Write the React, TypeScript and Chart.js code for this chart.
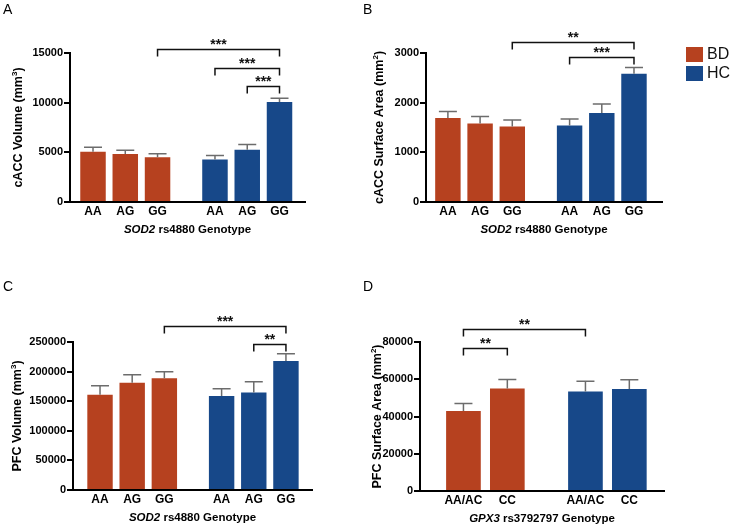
import React, { useEffect, useRef } from "react";
import { Chart, registerables } from "chart.js";

Chart.register(...registerables);

const FONT = '"Liberation Sans", Arial, Helvetica, sans-serif';
const BD_COLOR = "#B6411F";
const HC_COLOR = "#174889";
const ERR_COLOR = "#6c6c6c";
const seriesNames = ["BD", "HC"];

// ---------- Panel A ----------
const genotypesA = ["AA", "AG", "GG"];
const bdMeanA = [5050, 4820, 4510];
const bdSemA = [450, 400, 340];
const hcMeanA = [4280, 5250, 10070];
const hcSemA = [400, 550, 370];
const yTicksA = [0, 5000, 10000, 15000];
const sigFromA = [2, 3, 4];
const sigToA = [5, 5, 5];
const sigLevelA = [15370, 13460, 11680];
const sigStarsA = ["***", "***", "***"];

// ---------- Panel B ----------
const genotypesB = ["AA", "AG", "GG"];
const bdMeanB = [1690, 1582, 1521];
const bdSemB = [133, 141, 129];
const hcMeanB = [1541, 1791, 2581];
const hcSemB = [129, 181, 128];
const yTicksB = [0, 1000, 2000, 3000];
const sigFromB = [2, 3];
const sigToB = [5, 5];
const sigLevelB = [3219, 2918];
const sigStarsB = ["**", "***"];

// ---------- Panel C ----------
const genotypesC = ["AA", "AG", "GG"];
const bdMeanC = [161100, 181300, 188600];
const bdSemC = [15200, 13500, 11200];
const hcMeanC = [158800, 164500, 217700];
const hcSemC = [12400, 18500, 12400];
const yTicksC = [0, 50000, 100000, 150000, 200000, 250000];
const sigFromC = [2, 4];
const sigToC = [5, 5];
const sigLevelC = [277800, 247000];
const sigStarsC = ["***", "**"];

// ---------- Panel D ----------
const genotypesD = ["AA/AC", "CC"];
const bdMeanD = [42900, 55000];
const bdSemD = [4100, 4800];
const hcMeanD = [53400, 54800];
const hcSemD = [5500, 4900];
const yTicksD = [0, 20000, 40000, 60000, 80000];
const sigFromD = [0, 0];
const sigToD = [2, 1];
const sigLevelD = [86900, 77000];
const sigStarsD = ["**", "**"];

type Run = { text: string; font: string; dy?: number };

function drawRuns(ctx: CanvasRenderingContext2D, runs: Run[], cx: number, cy: number) {
  let total = 0;
  const widths = runs.map((r) => {
    ctx.font = r.font;
    const w = ctx.measureText(r.text).width;
    total += w;
    return w;
  });
  let x = cx - total / 2;
  ctx.textAlign = "left";
  ctx.textBaseline = "middle";
  runs.forEach((r, i) => {
    ctx.font = r.font;
    ctx.fillText(r.text, x, cy + (r.dy || 0));
    x += widths[i];
  });
}

type PanelSpec = {
  letter: string;
  left: number;
  top: number;
  width: number;
  height: number;
  padLeft: number;
  padTop: number;
  padRight: number;
  yAxisWidth: number;
  xAxisHeight: number;
  xMin: number;
  xMax: number;
  groups: string[];
  bdMean: number[];
  bdSem: number[];
  hcMean: number[];
  hcSem: number[];
  yTicks: number[];
  sigFrom: number[];
  sigTo: number[];
  sigLevel: number[];
  sigStars: string[];
  yTitle: string;
  ySup: string;
  yTitleX: number;
  xGene: string;
  xRest: string;
  letterY: number;
  legend: boolean;
};

const GROUP_GAP = 0.78;

function Panel({ spec }: { spec: PanelSpec }) {
  const ref = useRef<HTMLCanvasElement | null>(null);
  useEffect(() => {
    const canvas = ref.current;
    if (!canvas) return;
    const n = spec.groups.length;
    const bdX = spec.groups.map((_, i) => i);
    const hcX = spec.groups.map((_, i) => n + GROUP_GAP + i);
    const tickPos = [...bdX, ...hcX];
    const tickLabels = [...spec.groups, ...spec.groups];

    const overlay = {
      id: "overlay" + spec.letter,
      afterDraw(chart: any) {
        const ctx: CanvasRenderingContext2D = chart.ctx;
        const ys = chart.scales.y;
        const area = chart.chartArea;
        const metas = [chart.getDatasetMeta(0), chart.getDatasetMeta(1)];
        const sems = [spec.bdSem, spec.hcSem];
        const means = [spec.bdMean, spec.hcMean];
        ctx.save();
        // error bars
        ctx.strokeStyle = ERR_COLOR;
        ctx.lineWidth = 1.5;
        for (let d = 0; d < 2; d++) {
          metas[d].data.forEach((el: any, i: number) => {
            const yTop = el.y;
            const yErr = ys.getPixelForValue(means[d][i] + sems[d][i]);
            ctx.beginPath();
            ctx.moveTo(el.x, yTop);
            ctx.lineTo(el.x, yErr);
            ctx.moveTo(el.x - 9, yErr);
            ctx.lineTo(el.x + 9, yErr);
            ctx.stroke();
          });
        }
        // significance brackets
        const centerOf = (idx: number) =>
          idx < n ? metas[0].data[idx].x : metas[1].data[idx - n].x;
        ctx.strokeStyle = "#111";
        ctx.fillStyle = "#111";
        ctx.lineWidth = 1.5;
        spec.sigLevel.forEach((lvl, k) => {
          const x1 = centerOf(spec.sigFrom[k]);
          const x2 = centerOf(spec.sigTo[k]);
          const y = Math.round(ys.getPixelForValue(lvl)) + 0.5;
          ctx.beginPath();
          ctx.moveTo(x1, y + 7);
          ctx.lineTo(x1, y);
          ctx.lineTo(x2, y);
          ctx.lineTo(x2, y + 7);
          ctx.stroke();
          ctx.font = `bold 14px ${FONT}`;
          ctx.textAlign = "center";
          ctx.textBaseline = "alphabetic";
          ctx.fillText(spec.sigStars[k], (x1 + x2) / 2, y - 1);
        });
        // axis titles
        ctx.fillStyle = "#000";
        const cx = (area.left + area.right) / 2;
        drawRuns(
          ctx,
          [
            { text: spec.xGene, font: `italic bold 11.5px ${FONT}` },
            { text: spec.xRest, font: `bold 11.5px ${FONT}` },
          ],
          cx,
          area.bottom + 28
        );
        ctx.save();
        ctx.translate(spec.yTitleX, (area.top + area.bottom) / 2);
        ctx.rotate(-Math.PI / 2);
        drawRuns(
          ctx,
          [
            { text: spec.yTitle + " (mm", font: `bold 12.5px ${FONT}` },
            { text: spec.ySup, font: `bold 8px ${FONT}`, dy: -4 },
            { text: ")", font: `bold 12.5px ${FONT}` },
          ],
          0,
          0
        );
        ctx.restore();
        // panel letter
        ctx.font = `14px ${FONT}`;
        ctx.textAlign = "left";
        ctx.textBaseline = "alphabetic";
        ctx.fillText(spec.letter, 3, spec.letterY);
        // legend
        if (spec.legend) {
          const cols = [BD_COLOR, HC_COLOR];
          const ys2 = [47, 66];
          cols.forEach((c, k) => {
            ctx.fillStyle = c;
            ctx.fillRect(326, ys2[k], 17, 15);
            ctx.fillStyle = "#111";
            ctx.font = `16px ${FONT}`;
            ctx.textBaseline = "middle";
            ctx.fillText(seriesNames[k], 347, ys2[k] + 8);
          });
        }
        ctx.restore();
      },
    };

    const chart = new Chart(canvas, {
      type: "bar",
      data: {
        datasets: [
          {
            label: seriesNames[0],
            data: bdX.map((x, i) => ({ x, y: spec.bdMean[i] })),
            backgroundColor: BD_COLOR,
          },
          {
            label: seriesNames[1],
            data: hcX.map((x, i) => ({ x, y: spec.hcMean[i] })),
            backgroundColor: HC_COLOR,
          },
        ] as any,
      },
      options: {
        responsive: false,
        animation: false,
        events: [],
        grouped: false,
        categoryPercentage: 1,
        barPercentage: 0.79,
        layout: {
          padding: { left: spec.padLeft, top: spec.padTop, right: spec.padRight, bottom: 0 },
        },
        plugins: { legend: { display: false }, tooltip: { enabled: false } },
        scales: {
          x: {
            type: "linear",
            min: spec.xMin,
            max: spec.xMax,
            offset: false,
            z: 1,
            grid: { display: false, drawTicks: false, offset: false },
            border: { display: true, color: "#000", width: 2 },
            afterBuildTicks: (axis: any) => {
              axis.ticks = tickPos.map((v) => ({ value: v }));
            },
            afterFit: (axis: any) => {
              axis.height = spec.xAxisHeight;
            },
            ticks: {
              autoSkip: false,
              maxRotation: 0,
              minRotation: 0,
              padding: 2,
              color: "#000",
              font: { family: FONT, size: 12, weight: "bold" },
              callback: (_v: any, i: number) => tickLabels[i],
            },
          },
          y: {
            min: spec.yTicks[0],
            max: spec.yTicks[spec.yTicks.length - 1],
            z: 1,
            afterBuildTicks: (axis: any) => {
              axis.ticks = spec.yTicks.map((v) => ({ value: v }));
            },
            afterFit: (axis: any) => {
              axis.width = spec.yAxisWidth;
            },
            grid: {
              drawOnChartArea: false,
              drawTicks: true,
              tickLength: 6,
              color: "#000",
              lineWidth: 2,
            },
            border: { display: true, color: "#000", width: 2 },
            ticks: {
              padding: 1,
              color: "#000",
              font: { family: FONT, size: 11, weight: "bold" },
              callback: (v: any) => String(v),
            },
          },
        },
      } as any,
      plugins: [overlay],
    });
    return () => chart.destroy();
  }, [spec]);
  return (
    <canvas
      ref={ref}
      width={spec.width}
      height={spec.height}
      style={{ position: "absolute", left: spec.left, top: spec.top, width: spec.width, height: spec.height }}
    />
  );
}

const panels: PanelSpec[] = [
  {
    letter: "A", left: 0, top: 0, width: 360, height: 260,
    padLeft: 0, padTop: 53, padRight: 55, yAxisWidth: 70, xAxisHeight: 58,
    xMin: -0.713, xMax: 6.57,
    groups: genotypesA, bdMean: bdMeanA, bdSem: bdSemA, hcMean: hcMeanA, hcSem: hcSemA,
    yTicks: yTicksA, sigFrom: sigFromA, sigTo: sigToA, sigLevel: sigLevelA, sigStars: sigStarsA,
    yTitle: "cACC Volume", ySup: "3", yTitleX: 19, xGene: "SOD2", xRest: " rs4880 Genotype",
    letterY: 14, legend: false,
  },
  {
    letter: "B", left: 360, top: 0, width: 371, height: 260,
    padLeft: 0, padTop: 53, padRight: 69, yAxisWidth: 66, xAxisHeight: 58,
    xMin: -0.68, xMax: 6.65,
    groups: genotypesB, bdMean: bdMeanB, bdSem: bdSemB, hcMean: hcMeanB, hcSem: hcSemB,
    yTicks: yTicksB, sigFrom: sigFromB, sigTo: sigToB, sigLevel: sigLevelB, sigStars: sigStarsB,
    yTitle: "cACC Surface Area", ySup: "2", yTitleX: 20, xGene: "SOD2", xRest: " rs4880 Genotype",
    letterY: 14, legend: true,
  },
  {
    letter: "C", left: 0, top: 260, width: 360, height: 267,
    padLeft: 0, padTop: 82, padRight: 48, yAxisWidth: 73, xAxisHeight: 37,
    xMin: -0.84, xMax: 6.59,
    groups: genotypesC, bdMean: bdMeanC, bdSem: bdSemC, hcMean: hcMeanC, hcSem: hcSemC,
    yTicks: yTicksC, sigFrom: sigFromC, sigTo: sigToC, sigLevel: sigLevelC, sigStars: sigStarsC,
    yTitle: "PFC Volume", ySup: "3", yTitleX: 17.5, xGene: "SOD2", xRest: " rs4880 Genotype",
    letterY: 31, legend: false,
  },
  {
    letter: "D", left: 360, top: 260, width: 371, height: 267,
    padLeft: 0, padTop: 82, padRight: 67, yAxisWidth: 60, xAxisHeight: 36,
    xMin: -0.99, xMax: 4.57,
    groups: genotypesD, bdMean: bdMeanD, bdSem: bdSemD, hcMean: hcMeanD, hcSem: hcSemD,
    yTicks: yTicksD, sigFrom: sigFromD, sigTo: sigToD, sigLevel: sigLevelD, sigStars: sigStarsD,
    yTitle: "PFC Surface Area", ySup: "2", yTitleX: 18, xGene: "GPX3", xRest: " rs3792797 Genotype",
    letterY: 31, legend: false,
  },
];

export default function App() {
  return (
    <div style={{ position: "absolute", left: 0, top: 0, width: 731, height: 527, background: "#fff", overflow: "hidden" }}>
      {panels.map((p) => (
        <Panel key={p.letter} spec={p} />
      ))}
    </div>
  );
}
